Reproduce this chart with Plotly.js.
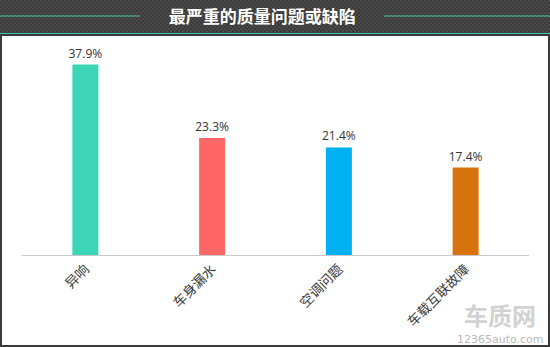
<!DOCTYPE html>
<html><head><meta charset="utf-8">
<script src="https://cdn.plot.ly/plotly-3.0.1.min.js"></script>
<style>html,body{margin:0;padding:0;background:#fff;}#c{width:550px;height:347px;}</style>
</head><body><div id="c"></div>
<script>
const categories = ['异响', '车身漏水', '空调问题', '车载互联故障'];
const values = [37.9, 23.3, 21.4, 17.4];
const labels = ['37.9%', '23.3%', '21.4%', '17.4%'];
const colors = ['#3dd5b8', '#ff6666', '#00b0f0', '#d9730d'];
const titleText = '最严重的质量问题或缺陷';

const W = 550, H = 347, L = 22, R = 21, T = 54, B = 92;
const pw = W - L - R, ph = H - T - B;
const px = v => (v - L) / pw;
const py = v => (H - B - v) / ph;

const svg = '<svg xmlns="http://www.w3.org/2000/svg" width="550" height="33">' +
  '<defs><pattern id="p" width="4" height="4" patternUnits="userSpaceOnUse">' +
  '<rect width="4" height="4" fill="#3a3a3a"/><rect width="2" height="2" fill="#4a4a4a"/><rect x="2" y="2" width="2" height="2" fill="#4a4a4a"/></pattern></defs>' +
  '<rect width="550" height="33" fill="url(#p)"/></svg>';
const src = 'data:image/svg+xml;base64,' + btoa(svg);

const trace = {
  type: 'bar', x: categories, y: values,
  marker: {color: colors},
  text: labels, textposition: 'outside', cliponaxis: false, constraintext: 'none',
  textfont: {family: 'Open Sans, Noto Sans CJK SC, sans-serif', size: 12, color: '#333'},
  hoverinfo: 'none'
};

const layout = {
  width: W, height: H,
  margin: {l: L, r: R, t: T, b: B},
  paper_bgcolor: '#fff', plot_bgcolor: '#fff',
  bargap: 0.795,
  showlegend: false,
  title: {text: '<b>' + titleText + '</b>', x: 0.477, xanchor: 'center', xref: 'container',
          y: 1 - 17 / H, yanchor: 'middle', yref: 'container',
          font: {family: 'Noto Sans CJK SC, sans-serif', size: 17, color: '#fff'}},
  xaxis: {showline: true, linecolor: '#c8c8c8', linewidth: 1, ticks: '', tickangle: -45,
          tickfont: {family: 'Noto Sans CJK SC, sans-serif', size: 13.5, color: '#3a3a3a'},
          showgrid: false, zeroline: false, fixedrange: true},
  yaxis: {range: [0, 40], visible: false, showgrid: false, zeroline: false, fixedrange: true},
  images: [{source: src, xref: 'paper', yref: 'paper', x: px(0), y: py(0),
            sizex: W / pw, sizey: 33 / ph, sizing: 'stretch', xanchor: 'left', yanchor: 'top', layer: 'below'}],
  shapes: [
    {type: 'rect', xref: 'paper', yref: 'paper', x0: px(0), x1: px(W), y0: py(33), y1: py(36),
     fillcolor: '#3cc6a8', line: {width: 0}},
    {type: 'line', xref: 'paper', yref: 'paper', x0: px(0), x1: px(140), y0: py(16), y1: py(16),
     line: {color: '#4cc2a6', width: 1}},
    {type: 'line', xref: 'paper', yref: 'paper', x0: px(384), x1: px(W), y0: py(16), y1: py(16),
     line: {color: '#4cc2a6', width: 1}},
    {type: 'rect', xref: 'paper', yref: 'paper', x0: px(1), x1: px(W - 1), y0: py(H - 1), y1: py(35),
     fillcolor: 'rgba(0,0,0,0)', line: {color: '#3a3a3a', width: 2}}
  ],
  annotations: [
    {text: '<b>车质网</b>', xref: 'paper', yref: 'paper', x: px(500), y: py(314), xanchor: 'center', yanchor: 'middle', showarrow: false,
     font: {family: 'Noto Sans CJK SC, sans-serif', size: 24, color: '#d2d2d2'}},
    {text: '12365auto.com', xref: 'paper', yref: 'paper', x: px(500), y: py(339), xanchor: 'center', yanchor: 'middle', showarrow: false,
     font: {family: 'DejaVu Sans, sans-serif', size: 11, color: '#b8b8b8'}}
  ]
};

Plotly.newPlot('c', [trace], layout, {displayModeBar: false, staticPlot: true});
</script></body></html>
